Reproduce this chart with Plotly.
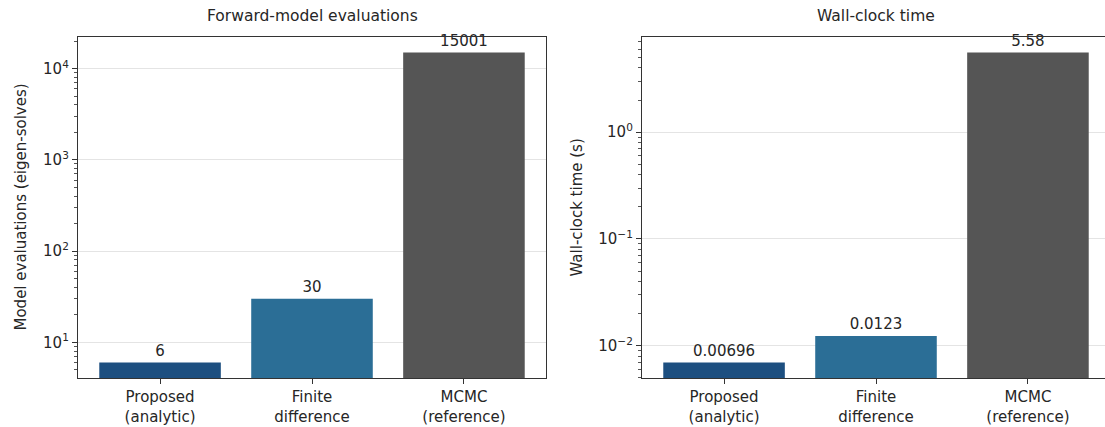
import math
import plotly.graph_objects as go

# Methods compared and their costs
methods = ["Proposed<br>(analytic)", "Finite<br>difference", "MCMC<br>(reference)"]
evaluations = [6, 30, 15001]
eval_labels = ["6", "30", "15001"]
wall_time = [0.00696, 0.0123, 5.58]
time_labels = ["0.00696", "0.0123", "5.58"]
bar_colors = ["#1d4f80", "#2b6e96", "#555555"]
eval_decades = [1, 2, 3, 4]
time_decades = [-2, -1, 0]

W, H = 1105, 427
FONT = "DejaVu Sans"
TXT = "#262626"

# plot-area pixel geometry
left1, right1 = 78, 546
left2, right2_full = 642, 1110
top_px, bot_px = 37, 378
x_pos = [0, 1, 2]


def log_range(vals, margin=0.05):
    lo, hi = math.log10(min(vals)), math.log10(max(vals))
    span = hi - lo
    return [lo - margin * span, hi + margin * span]


def power_labels(exps):
    return ["10<sup>%s</sup>" % (str(e) if e >= 0 else "\u2212" + str(-e)) for e in exps]


xr_full = [-0.54, 2.54]
# right panel runs past the page edge; show the visible part only
vis_frac = (W - left2) / (right2_full - left2)
xr2 = [xr_full[0], xr_full[0] + (xr_full[1] - xr_full[0]) * vis_frac]

fig = go.Figure()
fig.add_trace(go.Bar(
    x=x_pos, y=evaluations, marker=dict(color=bar_colors, line=dict(width=0)),
    width=0.8, text=eval_labels, textposition="outside", cliponaxis=False,
    textfont=dict(family=FONT, size=15, color=TXT), xaxis="x", yaxis="y",
    showlegend=False, hoverinfo="skip"))
fig.add_trace(go.Bar(
    x=x_pos, y=wall_time, marker=dict(color=bar_colors, line=dict(width=0)),
    width=0.8, text=time_labels, textposition="outside", cliponaxis=False,
    textfont=dict(family=FONT, size=15, color=TXT), xaxis="x2", yaxis="y2",
    showlegend=False, hoverinfo="skip"))

ydom = [(H - bot_px) / H, (H - top_px) / H]
spine = dict(showline=True, linecolor="#333333", linewidth=1.3)
xcommon = dict(tickvals=x_pos, ticktext=methods, ticks="outside", ticklen=5,
               tickcolor="#333333", showgrid=False, zeroline=False,
               tickfont=dict(family=FONT, size=15, color=TXT), **spine)
ycommon = dict(type="log", ticks="outside",
               ticklen=5, tickcolor="#333333", showgrid=True,
               gridcolor="#e4e4e4", gridwidth=1, zeroline=False,
               tickfont=dict(family=FONT, size=15, color=TXT),
               minor=dict(ticks="outside", ticklen=3, tickcolor="#555555",
                          dtick="D1", showgrid=False), **spine)

fig.update_layout(
    width=W, height=H, margin=dict(l=0, r=0, t=0, b=0),
    paper_bgcolor="white", plot_bgcolor="white",
    font=dict(family=FONT, color=TXT),
    bargap=0.2,
    xaxis=dict(domain=[left1 / W, right1 / W], range=xr_full, mirror=True,
               anchor="y", **xcommon),
    yaxis=dict(domain=ydom, range=log_range(evaluations), mirror=True,
               anchor="x", tickvals=[10 ** e for e in eval_decades],
               ticktext=power_labels(eval_decades), **ycommon),
    xaxis2=dict(domain=[left2 / W, 1.0], range=xr2, mirror=True,
                anchor="y2", **xcommon),
    yaxis2=dict(domain=ydom, range=log_range(wall_time), mirror=False,
                anchor="x2", tickvals=[10 ** e for e in time_decades],
                ticktext=power_labels(time_decades), **ycommon),
)

# panel titles and y-axis labels
title_y = 1 - 27 / H
fig.add_annotation(text="Forward-model evaluations", x=((left1 + right1) / 2) / W,
                   y=title_y, xref="paper", yref="paper", showarrow=False,
                   xanchor="center", yanchor="bottom",
                   font=dict(family=FONT, size=15.5, color=TXT))
fig.add_annotation(text="Wall-clock time", x=((left2 + right2_full) / 2) / W,
                   y=title_y, xref="paper", yref="paper", showarrow=False,
                   xanchor="center", yanchor="bottom",
                   font=dict(family=FONT, size=15.5, color=TXT))
ymid = ((H - bot_px) + (H - top_px)) / 2 / H
fig.add_annotation(text="Model evaluations (eigen-solves)", x=20 / W, y=ymid,
                   xref="paper", yref="paper", showarrow=False, textangle=-90,
                   xanchor="center", yanchor="middle",
                   font=dict(family=FONT, size=15, color=TXT))
fig.add_annotation(text="Wall-clock time (s)", x=576 / W, y=ymid,
                   xref="paper", yref="paper", showarrow=False, textangle=-90,
                   xanchor="center", yanchor="middle",
                   font=dict(family=FONT, size=15, color=TXT))

fig.write_html("out.html")
